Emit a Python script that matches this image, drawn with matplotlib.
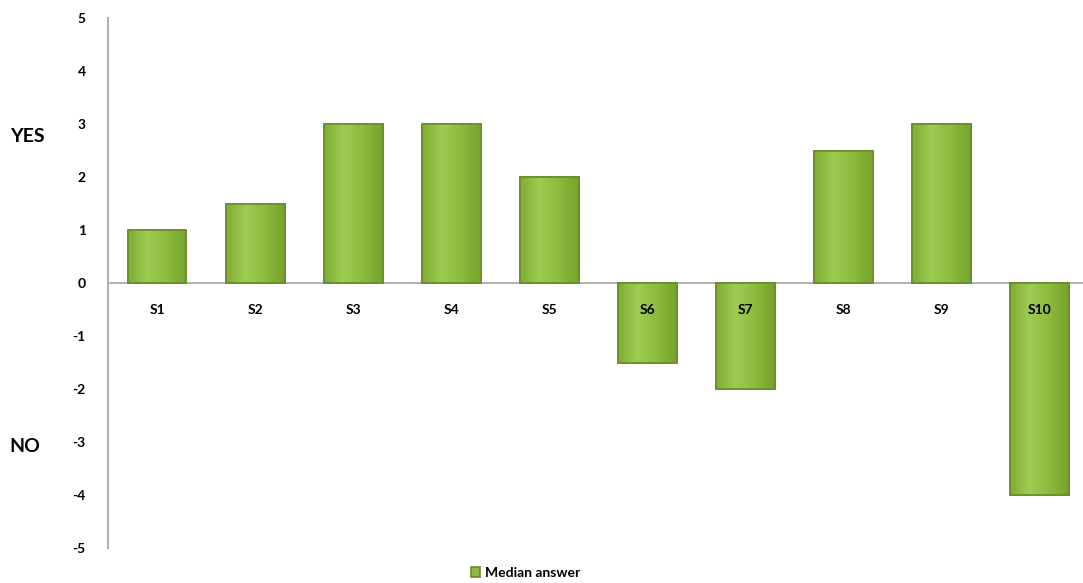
import matplotlib.pyplot as plt
import numpy as np

# data
categories = ["S1", "S2", "S3", "S4", "S5", "S6", "S7", "S8", "S9", "S10"]
median_answer = [1, 1.5, 3, 3, 2, -1.5, -2, 2.5, 3, -4]
y_ticks = [5, 4, 3, 2, 1, 0, -1, -2, -3, -4, -5]

plt.rcParams['font.family'] = ['Lato', 'DejaVu Sans']

fig = plt.figure(figsize=(10.83, 5.83), dpi=100)
ax = fig.add_axes([0.0997, 0.06, 0.9003, 0.909])

x = np.arange(len(categories))
bars = ax.bar(x, median_answer, width=0.6, color='#8dbb3e', edgecolor='#6a8c2a',
              linewidth=1.2, label='Median answer', zorder=2)

# simple vertical gradient look on each bar
cmap = plt.matplotlib.colors.LinearSegmentedColormap.from_list(
    'g', ['#7fae33', '#9fcb52', '#8dbb3e', '#76a42e'])
for b in bars:
    x0, w = b.get_x(), b.get_width()
    y0, h = b.get_y(), b.get_height()
    grad = np.linspace(0, 1, 64).reshape(1, -1)
    ax.imshow(grad, extent=[x0, x0 + w, y0, y0 + h], aspect='auto',
              cmap=cmap, zorder=2.5)
    ax.add_patch(plt.Rectangle((x0, y0), w, h, fill=False, edgecolor='#6a8c2a',
                               linewidth=1.2, zorder=3))

ax.set_xlim(-0.5, 9.44)
ax.set_ylim(-5, 5)
ax.axhline(0, color='#a6a6a6', linewidth=1.2, zorder=1)

ax.set_yticks(y_ticks)
ax.set_yticklabels([str(v) for v in y_ticks], fontsize=10, fontweight='bold')
ax.tick_params(axis='y', length=0, pad=16)
ax.set_xticks([])

for xi, name in zip(x, categories):
    ax.text(xi, -0.5, name, ha='center', va='center', fontsize=10,
            fontweight='bold', zorder=4)

for s in ['top', 'right', 'bottom']:
    ax.spines[s].set_visible(False)
ax.spines['left'].set_color('#b0b0b0')
ax.spines['left'].set_linewidth(1.5)

fig.text(0.009, 1 - 137 / 583, 'YES', fontsize=14, fontweight='bold', va='center')
fig.text(0.009, 1 - 447 / 583, 'NO', fontsize=14, fontweight='bold', va='center')

fig.legend(handles=[bars], labels=['Median answer'], loc='center',
           bbox_to_anchor=(0.485, 0.018), frameon=False,
           handlelength=0.7, handleheight=0.7, handletextpad=0.3,
           borderpad=0.1, prop={'weight': 'bold', 'size': 10})

fig.savefig('out.png', dpi=100)
